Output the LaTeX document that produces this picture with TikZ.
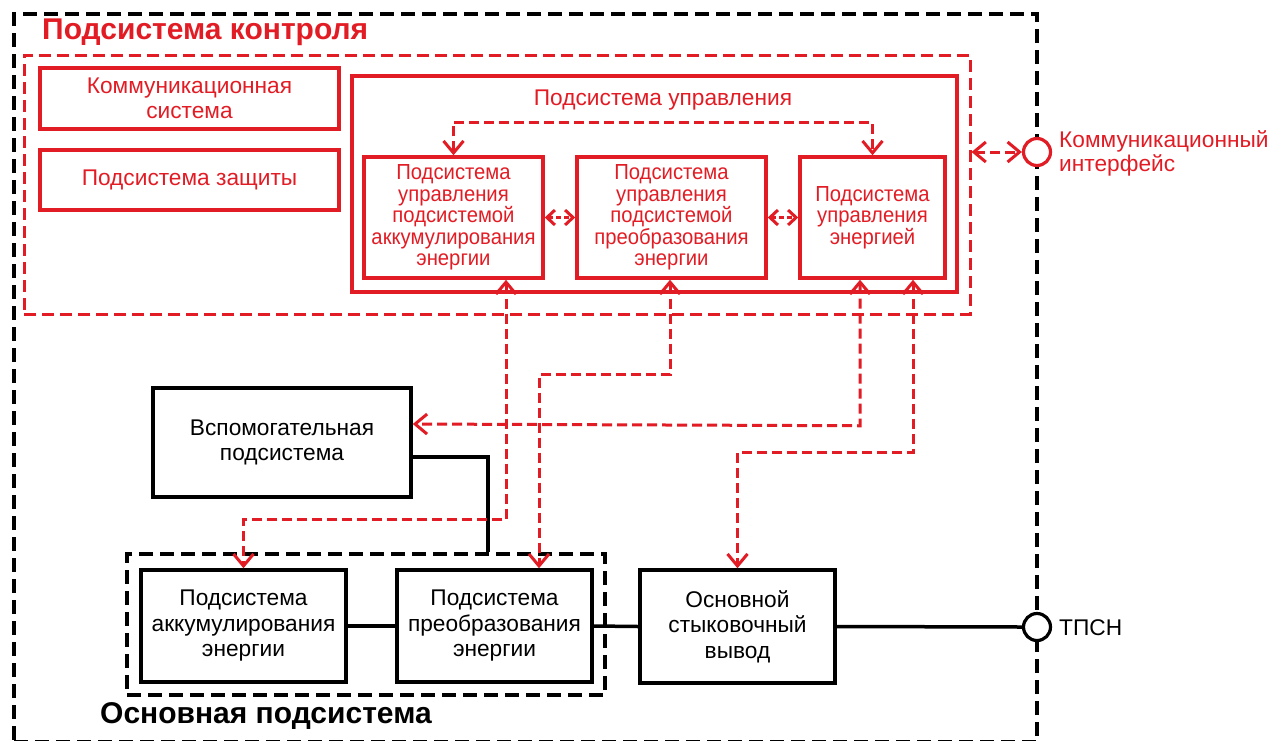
\documentclass[tikz,border=0pt]{standalone}
\usepackage{fontspec}
\setmainfont{Liberation Sans}
\newfontfamily\narrowsans[FakeStretch=0.93]{Liberation Sans}
\usetikzlibrary{arrows.meta}
\definecolor{ctrlred}{RGB}{226,28,36}
\begin{document}
\begin{tikzpicture}[x=1pt,y=-1pt,
  redbox/.style={draw=ctrlred,line width=3.5pt,text=ctrlred,align=center,inner sep=0pt,
    font=\fontsize{22.7}{25}\selectfont},
  innerbox/.style={redbox,font=\narrowsans\fontsize{21.8}{21.5}\selectfont},
  blackbox/.style={draw=black,line width=3.5pt,align=center,inner sep=0pt,
    font=\fontsize{22.7}{25.5}\selectfont},
  reddash/.style={draw=ctrlred,line width=3pt,dash pattern=on 12pt off 6pt},
  blackdash/.style={draw=black,line width=3.2pt,dash pattern=on 14pt off 7pt},
  barb/.tip={Straight Barb[length=12pt,width=20pt,line width=3pt]},
  smallbarb/.tip={Straight Barb[length=8pt,width=15pt,line width=3pt]},
  link/.style={draw=ctrlred,line width=3pt,dash pattern=on 10pt off 5pt,barb-barb},
  shortlink/.style={draw=ctrlred,line width=3pt,dash pattern=on 5pt off 3pt,smallbarb-smallbarb},
  wire/.style={draw=black,line width=3.5pt},
  port/.style={circle,fill=white,line width=3.2pt,minimum size=27pt,inner sep=0pt},
  title/.style={font=\fontsize{30}{31}\selectfont\bfseries,inner sep=0pt,anchor=west}]
\useasboundingbox (0,0) rectangle (1269,740);

% enclosing frames
\node[blackdash,minimum width=1023,minimum height=728,inner sep=0pt] (outer) at (525.5,378) {};
\node[reddash,minimum width=946,minimum height=259,inner sep=0pt] (ctrl) at (497,184.5) {};
\node[title,text=ctrlred] (ctrltitle) at (42,32) {Подсистема контроля};

% control subsystem contents
\node[redbox,minimum width=299,minimum height=61] (comm) at (189.5,98.5) {Коммуникационная\\система};
\node[redbox,minimum width=299,minimum height=60] (prot) at (189.5,180) {Подсистема защиты};
\node[redbox,minimum width=605,minimum height=216] (mgmt) at (654.5,184) {};
\node[text=ctrlred,font=\fontsize{22.7}{25}\selectfont] (mgmtlabel) at (663,100) {Подсистема управления};
\node[innerbox,minimum width=179,minimum height=121] (A) at (453.5,217.5)
  {Подсистема\\управления\\подсистемой\\аккумулирования\\энергии};
\node[innerbox,minimum width=189,minimum height=121] (B) at (671.5,217.5)
  {Подсистема\\управления\\подсистемой\\преобразования\\энергии};
\node[innerbox,minimum width=145,minimum height=121] (C) at (872.5,217.5)
  {Подсистема\\управления\\энергией};

% ports on the outer frame
\node[port,draw=ctrlred] (kint) at (1037,152) {};
\node[text=ctrlred,align=left,anchor=west,inner sep=0pt,font=\fontsize{22.7}{24}\selectfont] (kintlabel) at (1059,153) {Коммуникационный\\интерфейс};
\node[port,draw=black] (tpsn) at (1037,627) {};
\node[anchor=west,inner sep=0pt,font=\fontsize{22.7}{24}\selectfont] (tpsnlabel) at (1059,628) {ТПСН};

% power path
\node[blackdash,minimum width=478,minimum height=141,inner sep=0pt] (main) at (366,624.5) {};
\node[title,text=black] (maintitle) at (100,716) {Основная подсистема};
\node[blackbox,fill=white,minimum width=258,minimum height=109] (aux) at (282,442.5) {Вспомогательная\\подсистема};
\node[blackbox,minimum width=205,minimum height=112] (akk) at (243.5,626) {Подсистема\\аккумулирования\\энергии};
\node[blackbox,minimum width=195,minimum height=112] (conv) at (494.5,626) {Подсистема\\преобразования\\энергии};
\node[blackbox,minimum width=195,minimum height=113] (term) at (737.5,626.5) {Основной\\стыковочный\\вывод};

\draw[wire] (akk.east) -- (conv.west);
\draw[wire] (conv.east) -- (term.west);
\draw[wire] (term.east) -- (tpsn.west);
\draw[wire] ([yshift=-14.5pt]aux.east) -| ([xshift=122pt]main.north);

% control links
\draw[link] (A.north) -- ++(0,-33) -| (C.north);
\draw[shortlink] (A.east) -- (B.west);
\draw[shortlink] (B.east) -- (C.west);
\draw[link] (ctrl.east |- kint) -- (kint.west);
\draw[link] ([xshift=52.5pt]A.south) -- ++(0,240) -| (akk.north);
\draw[link] ([xshift=-1.5pt]B.south) -- ++(0,95) -| ([xshift=44.5pt]conv.north);
\draw[link] ([xshift=-12.5pt]C.south) -- ++(0,146) -- ([yshift=18.5pt]aux.east);
\draw[link] ([xshift=40.5pt]C.south) -- ++(0,173) -| (term.north);
\end{tikzpicture}
\end{document}
